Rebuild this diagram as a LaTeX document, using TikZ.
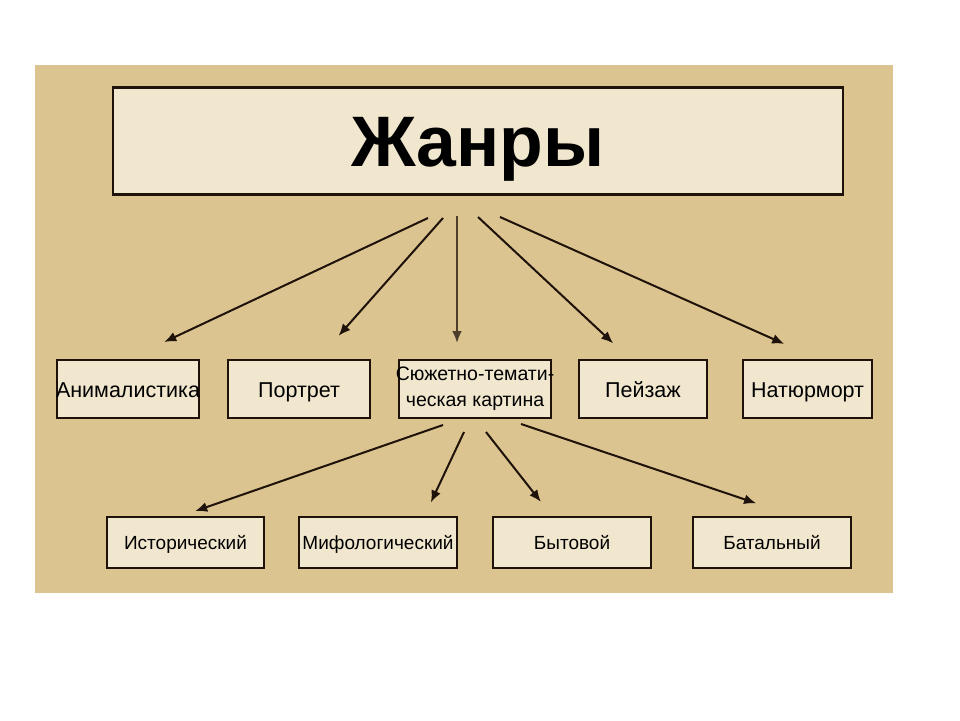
\documentclass[tikz,border=0pt]{standalone}
\usepackage{fontspec}
\setmainfont{Liberation Sans}
\usepackage{tikz}
\usetikzlibrary{arrows.meta}
\definecolor{panel}{HTML}{DBC48F}
\definecolor{paper}{HTML}{F1E7CE}
\definecolor{ink}{HTML}{1E120A}

\begin{document}
\begin{tikzpicture}[x=1pt,y=-1pt,
  genre/.style={draw=ink,line width=2pt,fill=paper,inner sep=0pt,minimum height=58pt,
    text height=23pt,text depth=7pt,font=\fontsize{21.5}{24}\selectfont},
  sub/.style={genre,minimum width=158pt,minimum height=51pt,text height=17pt,text depth=4pt,
    font=\fontsize{19}{22}\selectfont},
  arr/.style={draw=ink,line width=2pt,-{Latex[length=12pt,width=10pt]}}]
\useasboundingbox (0,0) rectangle (960,720);
% Жанры живописи
\fill[panel] (35,65) rectangle (893,593);
\node[draw=ink,line width=2.5pt,fill=paper,minimum width=730pt,minimum height=107pt,inner sep=0pt,
  text height=65pt,text depth=15pt,font=\fontsize{71.5}{80}\selectfont\bfseries] (title) at (478,141) {Жанры};
\node[genre,minimum width=142pt] (anim) at (128,389) {\makebox[138pt]{Анималистика}};
\node[genre,minimum width=142pt] (portr) at (299,389) {Портрет};
\node[genre,minimum width=152pt,align=center,text height=,text depth=,
  font=\fontsize{19.5}{26}\selectfont] (sujet) at (475,389)
  {\makebox[148pt]{Сюжетно-темати-}\\\makebox[148pt]{ческая картина}};
\node[genre,minimum width=128pt] (peyz) at (643,389) {Пейзаж};
\node[genre,minimum width=129pt] (natur) at (807.5,389) {Натюрморт};
\node[sub,minimum width=157pt] (istor) at (185.5,542.5) {Исторический};
\node[sub] (mifol) at (378,542.5) {Мифологический};
\node[sub] (bytov) at (572,542.5) {Бытовой};
\node[sub] (batal) at (772,542.5) {Батальный};
\coordinate (s1) at (428,218);
\coordinate (s2) at (443,218);
\coordinate (s3) at (457,216);
\coordinate (s4) at (478,217);
\coordinate (s5) at (500,217);
\coordinate (m1) at (443,425);
\coordinate (m2) at (464,432);
\coordinate (m3) at (486,432);
\coordinate (m4) at (521,424);
\draw[arr,shorten >=40pt] (s1) -- (anim.north);
\draw[arr,shorten >=31pt] (s2) -- ([xshift=19pt]portr.north);
\draw[arr,draw=ink!75!panel,line width=2.6pt,shorten >=16pt] (s3) -- ([xshift=-18pt]sujet.north);
\draw[arr,shorten >=23pt] (s4) -- ([xshift=-13pt]peyz.north);
\draw[arr,shorten >=37pt] (s5) -- ([xshift=10.5pt]natur.north);
\draw[arr,shorten >=15pt] (m1) -- ([xshift=-4.5pt]istor.north);
\draw[arr,shorten >=15pt] (m2) -- ([xshift=46.5pt]mifol.north);
\draw[arr,shorten >=18pt] (m3) -- ([xshift=-20pt]bytov.north);
\draw[arr,shorten >=40pt] (m4) -- ([xshift=22pt]batal.north);
\end{tikzpicture}
\end{document}
